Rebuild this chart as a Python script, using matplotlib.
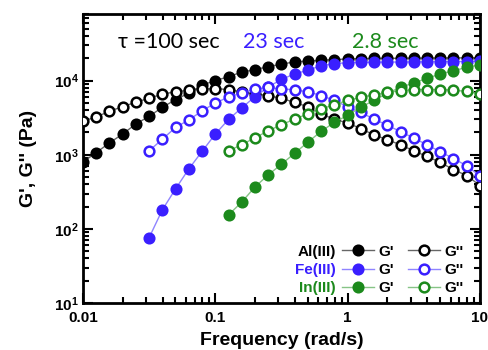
import math
import matplotlib
matplotlib.use("Agg")
import matplotlib.pyplot as plt
import matplotlib.ticker as ticker

# frequency points (rad/s), 10 per decade
freq = [0.01, 0.0126, 0.0158, 0.02, 0.0251, 0.0316, 0.0398, 0.0501, 0.0631, 0.0794,
        0.1, 0.126, 0.158, 0.2, 0.251, 0.316, 0.398, 0.501, 0.631, 0.794,
        1.0, 1.26, 1.58, 2.0, 2.51, 3.16, 3.98, 5.01, 6.31, 7.94, 10.0]

al_g1 = [800, 1070, 1440, 1910, 2600, 3300, 4360, 5540, 6800, 8700,
         10000, 11300, 13000, 14100, 15400, 16700, 17900, 18300, 18800, 19200,
         19600, 19800, 19900, 20000, 20000, 20100, 20100, 20200, 20200, 20300, 20300]
al_g2 = [2830, 3240, 3850, 4470, 5100, 5800, 6550, 7100, 7400, 7680,
         7800, 7580, 7050, 6600, 6300, 5750, 5100, 4420, 3560, 3000,
         2700, 2240, 1860, 1590, 1365, 1130, 950, 790, 630, 525, 385]

fe_freq = freq[5:]
fe_g1 = [76, 181, 347, 645, 1110, 1900, 3000, 4270, 6100, 8200,
         10400, 12300, 13800, 15900, 17000, 17400, 17600, 17700, 17800, 17800,
         17900, 17900, 18000, 18000, 18100, 18300]
fe_g2 = [1130, 1620, 2340, 2950, 3900, 5000, 6000, 6800, 7700, 8100,
         7700, 7550, 7050, 6300, 5400, 4450, 3720, 3030, 2500, 2050,
         1680, 1365, 1100, 890, 710, 520]

in_freq = freq[11:]
in_g1 = [155, 229, 370, 535, 745, 1050, 1480, 2070, 2740, 3400,
         4400, 5400, 6800, 8100, 9300, 10700, 12300, 13600, 15100, 16400]
in_g2 = [1130, 1365, 1700, 2100, 2540, 3030, 3560, 4150, 4730, 5400,
         5950, 6460, 6920, 7330, 7580, 7580, 7580, 7430, 7160, 6600]

series = [("Al(III)", freq, al_g1, al_g2, "black", "#666666"),
          ("Fe(III)", fe_freq, fe_g1, fe_g2, "#3a1fff", "#8f84ff"),
          ("In(III)", in_freq, in_g1, in_g2, "#1c8a1c", "#86c486")]
notes = [("τ =100 sec", 0.088, "black"), ("23 sec", 0.403, "#3a1fff"), ("2.8 sec", 0.678, "#1c8a1c")]

plt.rcParams['font.family'] = ['Liberation Sans', 'DejaVu Sans']
plt.rcParams['mathtext.fontset'] = 'custom'
plt.rcParams['mathtext.bf'] = 'Liberation Sans:bold'

fig = plt.figure(figsize=(4.88, 3.5), dpi=100)
ax = fig.add_axes([0.170, 0.134, 0.8135, 0.827])

h1, h2 = [], []
for name, f, g1, g2, col, lcol in series:
    l1, = ax.plot(f, g1, '-', color=lcol, lw=1, marker='o', ms=7.5,
                  mfc=col, mec=col, mew=1.2, zorder=3)
    l2, = ax.plot(f, g2, '-', color=lcol, lw=1, marker='o', ms=7,
                  mfc='white', mec=col, mew=1.8, zorder=3)
    h1.append(l1)
    h2.append(l2)

ax.set_xscale('log')
ax.set_yscale('log')
ax.set_xlim(0.01, 10)
ax.set_ylim(10, 8e4)

ax.xaxis.set_major_formatter(ticker.FuncFormatter(lambda v, p: "%g" % v))
ax.yaxis.set_major_formatter(ticker.FuncFormatter(
    lambda v, p: r"$\mathbf{10^{%d}}$" % round(math.log10(v))))
ax.yaxis.set_minor_locator(ticker.LogLocator(subs=range(2, 10), numticks=20))
ax.xaxis.set_minor_locator(ticker.LogLocator(subs=range(2, 10), numticks=20))
ax.yaxis.set_minor_formatter(ticker.NullFormatter())
ax.xaxis.set_minor_formatter(ticker.NullFormatter())
ax.tick_params(which='both', direction='in', top=True, right=True, width=1.5)
ax.tick_params(which='major', length=7, labelsize=11)
ax.tick_params(which='minor', length=4)
ax.tick_params(axis='x', pad=6)
ax.tick_params(axis='y', pad=3)
for lab in ax.get_xticklabels() + ax.get_yticklabels():
    lab.set_fontweight('bold')
for sp in ax.spines.values():
    sp.set_linewidth(2)

ax.set_xlabel("Frequency (rad/s)", fontsize=14, fontweight='bold', labelpad=5)
ax.set_ylabel("G', G'' (Pa)", fontsize=14, fontweight='bold', labelpad=12)

for txt, xpos, col in notes:
    ax.text(xpos, 0.901, txt, transform=ax.transAxes, color=col, fontsize=15.5,
            family=['Lato', 'DejaVu Sans'], va='center')

leg = ax.legend(h1 + h2, ["G'"] * 3 + ["G''"] * 3, ncol=2, loc='lower right',
                bbox_to_anchor=(0.985, -0.01), frameon=False,
                prop={'size': 11, 'weight': 'bold'}, handlelength=2.1,
                handletextpad=0.3, columnspacing=0.9, labelspacing=0.28,
                borderpad=0.2)

fig.canvas.draw()
inv = fig.transFigure.inverted()
lx0 = leg.get_window_extent().x0
for i, (name, f, g1, g2, col, lcol) in enumerate(series):
    bb = leg.get_texts()[i].get_window_extent()
    yc = (bb.y0 + bb.y1) / 2
    px, py = inv.transform((lx0 - 3, yc))
    fig.text(px, py, name, color=col, fontsize=11, fontweight='bold',
             ha='right', va='center')

fig.savefig("out.png", dpi=100)
